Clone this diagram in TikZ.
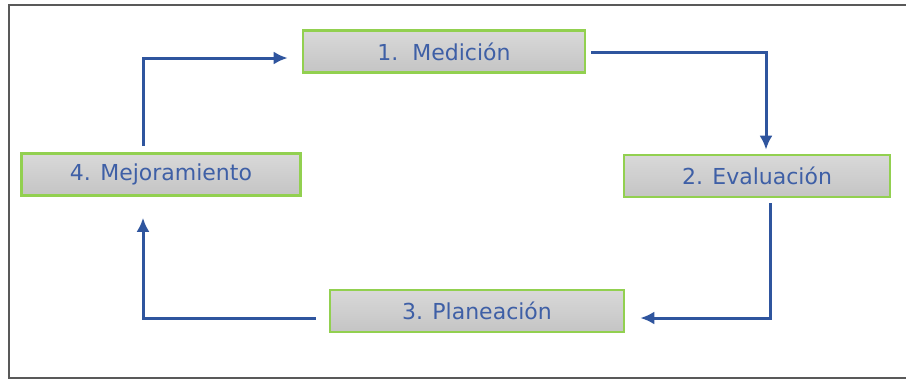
\documentclass[tikz,border=0pt]{standalone}
\usepackage{fontspec}
\setmainfont{DejaVu Sans}
\usetikzlibrary{arrows.meta}
\definecolor{boxgreen}{HTML}{92D050}
\definecolor{flowblue}{HTML}{2F559E}
\definecolor{textblue}{HTML}{3E5FA6}

\begin{document}
\begin{tikzpicture}[x=1pt, y=-1pt,
    stage/.style={draw=boxgreen, line width=2.6pt, top color=gray!30, bottom color=gray!46,
      minimum height=42pt, text=textblue, font=\fontsize{22}{26}\selectfont, inner sep=0pt},
    flow/.style={draw=flowblue, line width=3pt, -{Latex[length=14pt,width=13pt]}}]
     \useasboundingbox (0,0) rectangle (906,381);
     \draw[gray!70!black, line width=2.4pt] (909,5) -- (9,5) -- (9,378) -- (909,378);
     \node [stage, minimum width=282pt] (med) at (444,51.5) {1.\ \ Medición};
     \node [stage, minimum width=266pt] (eva) at (757,176) {2. Evaluación};
     \node [stage, minimum width=294pt] (pla) at (477,311) {3. Planeación};
     \node [stage, minimum width=279pt] (mej) at (161,174.5) {4. Mejoramiento};
     \draw[flow] ([xshift=5pt,yshift=-0.5pt]med.east) -| ([xshift=9pt,yshift=4pt]eva.north);
     \draw[flow] ([xshift=13pt,yshift=-5pt]eva.south) |- ([xshift=15pt,yshift=-7pt]pla.east);
     \draw[flow] ([xshift=-13pt,yshift=-7pt]pla.west) -| ([xshift=-18pt,yshift=-21pt]mej.south);
     \draw[flow] ([xshift=-18pt,yshift=6pt]mej.north) |- ([xshift=-14pt,yshift=-6.5pt]med.west);
  \end{tikzpicture}
\end{document}
